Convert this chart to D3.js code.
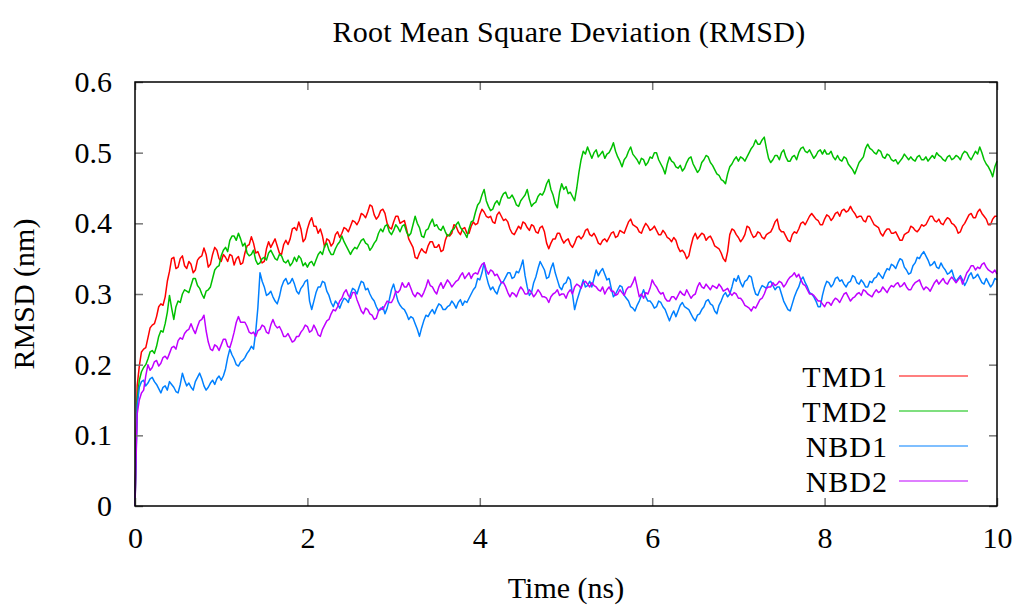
<!DOCTYPE html>
<html><head><meta charset="utf-8">
<script src="https://cdn.jsdelivr.net/npm/d3@7"></script>
<style>
html,body{margin:0;padding:0;background:#fff;}
text{font-family:"Liberation Serif","Times New Roman",serif;fill:#000;}
</style></head>
<body>
<svg id="chart" width="1013" height="605"></svg>
<script>
// ---- data ----
const title = "Root Mean Square Deviation (RMSD)";
const xLabel = "Time (ns)";
const yLabel = "RMSD (nm)";
const xTicks = [0, 2, 4, 6, 8, 10];
const yTicks = [0, 0.1, 0.2, 0.3, 0.4, 0.5, 0.6];
const seriesNames = ["TMD1", "TMD2", "NBD1", "NBD2"];
const seriesColors = ["#ff0000", "#00c000", "#0080ff", "#c000ff"];
const timeStep = 0.05; // ns between main samples; *Mid arrays sit halfway between them

const tmd1 = [
0, 0.198, 0.222, 0.238, 0.256, 0.268, 0.286, 0.296, 0.332, 0.352, 0.338, 0.354, 0.336, 0.342, 0.334, 0.352, 0.365, 0.338, 0.356, 0.362,
0.346, 0.352, 0.356, 0.341, 0.353, 0.344, 0.368, 0.381, 0.358, 0.352, 0.346, 0.374, 0.372, 0.368, 0.356, 0.376, 0.378, 0.394, 0.402, 0.374,
0.392, 0.408, 0.396, 0.392, 0.366, 0.376, 0.372, 0.388, 0.386, 0.392, 0.396, 0.402, 0.404, 0.412, 0.416, 0.424, 0.406, 0.418, 0.414, 0.394,
0.402, 0.41, 0.402, 0.392, 0.372, 0.352, 0.358, 0.36, 0.368, 0.374, 0.366, 0.36, 0.376, 0.382, 0.398, 0.388, 0.392, 0.386, 0.396, 0.398,
0.412, 0.416, 0.408, 0.402, 0.412, 0.41, 0.406, 0.392, 0.384, 0.396, 0.402, 0.394, 0.398, 0.388, 0.394, 0.388, 0.364, 0.378, 0.386, 0.378,
0.376, 0.37, 0.372, 0.382, 0.382, 0.392, 0.382, 0.38, 0.37, 0.378, 0.38, 0.388, 0.382, 0.388, 0.394, 0.406, 0.396, 0.388, 0.394, 0.396,
0.392, 0.39, 0.384, 0.386, 0.378, 0.38, 0.366, 0.362, 0.35, 0.368, 0.386, 0.382, 0.384, 0.38, 0.376, 0.366, 0.358, 0.346, 0.384, 0.39,
0.38, 0.378, 0.396, 0.386, 0.382, 0.386, 0.378, 0.386, 0.394, 0.406, 0.388, 0.382, 0.374, 0.388, 0.392, 0.402, 0.404, 0.414, 0.406, 0.398,
0.406, 0.41, 0.408, 0.416, 0.418, 0.416, 0.424, 0.414, 0.41, 0.404, 0.41, 0.404, 0.396, 0.386, 0.388, 0.392, 0.386, 0.382, 0.376, 0.386,
0.396, 0.39, 0.392, 0.396, 0.404, 0.41, 0.402, 0.4, 0.404, 0.406, 0.398, 0.386, 0.396, 0.406, 0.414, 0.408, 0.42, 0.41, 0.398, 0.406, 0.41];
const tmd1Mid = [
0.17, 0.218, 0.224, 0.252, 0.258, 0.282, 0.284, 0.318, 0.35, 0.336, 0.35, 0.34, 0.346, 0.33, 0.348, 0.354, 0.356, 0.342, 0.366, 0.35,
0.356, 0.346, 0.354, 0.35, 0.342, 0.358, 0.37, 0.372, 0.36, 0.344, 0.364, 0.366, 0.378, 0.358, 0.37, 0.37, 0.392, 0.39, 0.392, 0.378,
0.402, 0.396, 0.386, 0.382, 0.378, 0.368, 0.384, 0.38, 0.394, 0.388, 0.404, 0.398, 0.414, 0.408, 0.426, 0.412, 0.41, 0.42, 0.4, 0.392,
0.41, 0.4, 0.404, 0.378, 0.366, 0.35, 0.364, 0.358, 0.374, 0.366, 0.37, 0.362, 0.384, 0.386, 0.396, 0.384, 0.394, 0.386, 0.402, 0.4,
0.42, 0.41, 0.41, 0.4, 0.416, 0.404, 0.402, 0.386, 0.39, 0.392, 0.4, 0.39, 0.396, 0.386, 0.396, 0.372, 0.372, 0.378, 0.386, 0.372,
0.378, 0.366, 0.38, 0.378, 0.39, 0.384, 0.386, 0.372, 0.376, 0.374, 0.386, 0.38, 0.39, 0.386, 0.402, 0.398, 0.394, 0.386, 0.4, 0.39,
0.396, 0.384, 0.39, 0.38, 0.374, 0.376, 0.36, 0.358, 0.354, 0.38, 0.378, 0.386, 0.376, 0.382, 0.368, 0.364, 0.35, 0.36, 0.392, 0.384,
0.374, 0.384, 0.394, 0.38, 0.388, 0.38, 0.384, 0.388, 0.402, 0.392, 0.388, 0.376, 0.384, 0.386, 0.4, 0.398, 0.41, 0.41, 0.404, 0.398,
0.412, 0.404, 0.414, 0.41, 0.42, 0.418, 0.418, 0.408, 0.41, 0.402, 0.41, 0.398, 0.394, 0.382, 0.392, 0.386, 0.388, 0.376, 0.384, 0.388,
0.394, 0.388, 0.398, 0.398, 0.41, 0.404, 0.406, 0.398, 0.408, 0.4, 0.394, 0.388, 0.4, 0.412, 0.408, 0.416, 0.414, 0.406, 0.398, 0.41];

const tmd2 = [
0, 0.178, 0.196, 0.208, 0.22, 0.226, 0.248, 0.258, 0.298, 0.264, 0.29, 0.3, 0.304, 0.312, 0.322, 0.308, 0.294, 0.306, 0.322, 0.338,
0.354, 0.366, 0.376, 0.382, 0.386, 0.368, 0.358, 0.356, 0.348, 0.344, 0.352, 0.358, 0.356, 0.348, 0.354, 0.344, 0.34, 0.352, 0.354, 0.34,
0.338, 0.346, 0.348, 0.36, 0.368, 0.362, 0.356, 0.37, 0.382, 0.368, 0.356, 0.366, 0.37, 0.378, 0.37, 0.366, 0.376, 0.392, 0.396, 0.388,
0.39, 0.394, 0.396, 0.388, 0.386, 0.41, 0.394, 0.38, 0.392, 0.406, 0.398, 0.39, 0.388, 0.384, 0.392, 0.402, 0.39, 0.38, 0.402, 0.416,
0.43, 0.448, 0.424, 0.42, 0.432, 0.436, 0.444, 0.436, 0.434, 0.424, 0.436, 0.448, 0.424, 0.43, 0.442, 0.446, 0.462, 0.44, 0.422, 0.456,
0.452, 0.444, 0.432, 0.472, 0.502, 0.508, 0.492, 0.504, 0.498, 0.492, 0.5, 0.514, 0.494, 0.48, 0.494, 0.508, 0.494, 0.484, 0.49, 0.486,
0.492, 0.5, 0.484, 0.47, 0.494, 0.486, 0.478, 0.474, 0.486, 0.494, 0.478, 0.476, 0.49, 0.494, 0.482, 0.47, 0.462, 0.456, 0.48, 0.49,
0.488, 0.492, 0.494, 0.506, 0.518, 0.512, 0.522, 0.492, 0.49, 0.496, 0.5, 0.494, 0.488, 0.496, 0.5, 0.508, 0.5, 0.498, 0.496, 0.504,
0.504, 0.498, 0.494, 0.496, 0.488, 0.492, 0.48, 0.47, 0.486, 0.494, 0.512, 0.504, 0.498, 0.502, 0.492, 0.496, 0.488, 0.484, 0.492, 0.494,
0.494, 0.488, 0.496, 0.49, 0.488, 0.496, 0.5, 0.494, 0.488, 0.496, 0.492, 0.494, 0.498, 0.5, 0.49, 0.502, 0.508, 0.49, 0.48, 0.466, 0.488];
const tmd2Mid = [
0.15, 0.19, 0.2, 0.218, 0.216, 0.24, 0.246, 0.274, 0.28, 0.282, 0.288, 0.306, 0.302, 0.322, 0.312, 0.3, 0.304, 0.31, 0.334, 0.34,
0.362, 0.36, 0.382, 0.376, 0.378, 0.372, 0.354, 0.362, 0.342, 0.35, 0.348, 0.362, 0.35, 0.356, 0.346, 0.348, 0.344, 0.346, 0.35, 0.344,
0.344, 0.34, 0.356, 0.356, 0.372, 0.356, 0.364, 0.374, 0.374, 0.362, 0.362, 0.364, 0.376, 0.372, 0.362, 0.372, 0.386, 0.388, 0.398, 0.384,
0.398, 0.388, 0.398, 0.382, 0.398, 0.4, 0.382, 0.39, 0.4, 0.396, 0.392, 0.396, 0.382, 0.39, 0.398, 0.394, 0.386, 0.392, 0.404, 0.426,
0.44, 0.432, 0.418, 0.428, 0.426, 0.442, 0.436, 0.44, 0.426, 0.432, 0.44, 0.434, 0.428, 0.438, 0.44, 0.456, 0.448, 0.428, 0.444, 0.448,
0.442, 0.438, 0.45, 0.49, 0.498, 0.5, 0.5, 0.494, 0.502, 0.498, 0.506, 0.502, 0.488, 0.49, 0.502, 0.498, 0.49, 0.492, 0.482, 0.494,
0.5, 0.49, 0.478, 0.484, 0.488, 0.48, 0.482, 0.478, 0.492, 0.484, 0.472, 0.486, 0.496, 0.486, 0.476, 0.468, 0.46, 0.47, 0.484, 0.494,
0.494, 0.488, 0.5, 0.51, 0.512, 0.518, 0.506, 0.486, 0.496, 0.49, 0.504, 0.488, 0.494, 0.49, 0.506, 0.502, 0.504, 0.492, 0.502, 0.498,
0.498, 0.502, 0.49, 0.49, 0.494, 0.484, 0.476, 0.478, 0.49, 0.506, 0.506, 0.5, 0.504, 0.494, 0.498, 0.49, 0.49, 0.488, 0.498, 0.49,
0.49, 0.494, 0.49, 0.494, 0.492, 0.492, 0.496, 0.49, 0.494, 0.49, 0.496, 0.49, 0.502, 0.494, 0.496, 0.498, 0.5, 0.484, 0.474, 0.48];

const nbd1 = [
0, 0.168, 0.178, 0.174, 0.182, 0.172, 0.16, 0.17, 0.176, 0.168, 0.16, 0.188, 0.17, 0.168, 0.176, 0.188, 0.17, 0.168, 0.178, 0.18,
0.178, 0.194, 0.222, 0.208, 0.198, 0.206, 0.216, 0.226, 0.246, 0.33, 0.31, 0.3, 0.296, 0.286, 0.31, 0.322, 0.316, 0.314, 0.3, 0.312,
0.32, 0.278, 0.302, 0.31, 0.316, 0.298, 0.282, 0.286, 0.288, 0.292, 0.3, 0.306, 0.31, 0.316, 0.308, 0.294, 0.282, 0.278, 0.272, 0.292,
0.314, 0.29, 0.28, 0.272, 0.268, 0.258, 0.24, 0.262, 0.268, 0.278, 0.28, 0.284, 0.278, 0.284, 0.286, 0.288, 0.284, 0.288, 0.3, 0.31,
0.32, 0.344, 0.314, 0.31, 0.3, 0.316, 0.324, 0.33, 0.324, 0.33, 0.348, 0.31, 0.302, 0.324, 0.346, 0.334, 0.324, 0.344, 0.32, 0.306,
0.316, 0.32, 0.278, 0.3, 0.32, 0.312, 0.31, 0.334, 0.332, 0.328, 0.322, 0.296, 0.306, 0.31, 0.294, 0.282, 0.276, 0.29, 0.306, 0.29,
0.286, 0.282, 0.288, 0.278, 0.262, 0.276, 0.276, 0.288, 0.28, 0.272, 0.262, 0.272, 0.282, 0.292, 0.284, 0.272, 0.29, 0.302, 0.3, 0.322,
0.326, 0.31, 0.32, 0.324, 0.3, 0.306, 0.31, 0.316, 0.312, 0.31, 0.3, 0.284, 0.276, 0.296, 0.31, 0.324, 0.31, 0.3, 0.29, 0.282,
0.31, 0.316, 0.314, 0.324, 0.32, 0.31, 0.318, 0.324, 0.314, 0.316, 0.31, 0.316, 0.324, 0.326, 0.33, 0.334, 0.34, 0.344, 0.348, 0.334,
0.33, 0.344, 0.35, 0.36, 0.348, 0.342, 0.338, 0.344, 0.334, 0.33, 0.324, 0.322, 0.32, 0.318, 0.33, 0.324, 0.322, 0.314, 0.316, 0.314, 0.32];
const nbd1Mid = [
0.14, 0.176, 0.17, 0.18, 0.176, 0.166, 0.168, 0.164, 0.172, 0.162, 0.172, 0.178, 0.174, 0.164, 0.182, 0.18, 0.164, 0.174, 0.172, 0.184,
0.184, 0.21, 0.214, 0.2, 0.204, 0.21, 0.22, 0.222, 0.28, 0.318, 0.298, 0.304, 0.29, 0.296, 0.318, 0.314, 0.322, 0.304, 0.308, 0.318,
0.29, 0.29, 0.31, 0.318, 0.304, 0.288, 0.29, 0.28, 0.294, 0.288, 0.308, 0.3, 0.318, 0.306, 0.3, 0.29, 0.276, 0.282, 0.28, 0.306,
0.302, 0.284, 0.278, 0.264, 0.266, 0.25, 0.252, 0.27, 0.274, 0.272, 0.286, 0.278, 0.282, 0.29, 0.28, 0.292, 0.29, 0.294, 0.306, 0.322,
0.33, 0.326, 0.306, 0.304, 0.31, 0.318, 0.33, 0.322, 0.332, 0.338, 0.326, 0.298, 0.316, 0.336, 0.34, 0.322, 0.336, 0.33, 0.31, 0.314,
0.324, 0.3, 0.29, 0.31, 0.31, 0.318, 0.322, 0.326, 0.336, 0.32, 0.308, 0.3, 0.312, 0.298, 0.29, 0.28, 0.284, 0.298, 0.296, 0.29,
0.28, 0.29, 0.282, 0.27, 0.27, 0.268, 0.284, 0.282, 0.278, 0.266, 0.27, 0.278, 0.29, 0.286, 0.276, 0.284, 0.298, 0.296, 0.31, 0.318,
0.316, 0.318, 0.326, 0.31, 0.298, 0.312, 0.308, 0.318, 0.306, 0.31, 0.29, 0.278, 0.286, 0.304, 0.32, 0.316, 0.302, 0.296, 0.282, 0.298,
0.318, 0.31, 0.322, 0.318, 0.314, 0.316, 0.326, 0.316, 0.32, 0.31, 0.318, 0.322, 0.33, 0.322, 0.336, 0.342, 0.336, 0.35, 0.338, 0.328,
0.34, 0.352, 0.356, 0.354, 0.34, 0.346, 0.336, 0.338, 0.328, 0.334, 0.318, 0.326, 0.312, 0.326, 0.322, 0.328, 0.316, 0.322, 0.31, 0.322];

const nbd2 = [
0, 0.15, 0.164, 0.2, 0.196, 0.206, 0.202, 0.212, 0.216, 0.226, 0.234, 0.236, 0.248, 0.258, 0.244, 0.262, 0.27, 0.232, 0.22, 0.226,
0.228, 0.236, 0.224, 0.246, 0.268, 0.26, 0.254, 0.244, 0.24, 0.25, 0.254, 0.244, 0.264, 0.252, 0.248, 0.24, 0.238, 0.234, 0.24, 0.25,
0.254, 0.248, 0.25, 0.24, 0.256, 0.264, 0.278, 0.282, 0.294, 0.306, 0.294, 0.302, 0.284, 0.272, 0.278, 0.27, 0.266, 0.28, 0.284, 0.288,
0.294, 0.302, 0.316, 0.31, 0.308, 0.296, 0.3, 0.302, 0.32, 0.31, 0.3, 0.316, 0.314, 0.316, 0.314, 0.32, 0.33, 0.326, 0.322, 0.33,
0.336, 0.344, 0.328, 0.332, 0.328, 0.316, 0.31, 0.296, 0.3, 0.304, 0.306, 0.3, 0.302, 0.3, 0.302, 0.296, 0.288, 0.3, 0.306, 0.3,
0.294, 0.306, 0.31, 0.312, 0.316, 0.314, 0.316, 0.31, 0.304, 0.3, 0.31, 0.304, 0.3, 0.302, 0.306, 0.31, 0.324, 0.296, 0.294, 0.3,
0.32, 0.31, 0.3, 0.294, 0.29, 0.296, 0.298, 0.3, 0.306, 0.294, 0.3, 0.316, 0.308, 0.31, 0.312, 0.308, 0.31, 0.306, 0.302, 0.302,
0.294, 0.29, 0.282, 0.276, 0.28, 0.292, 0.3, 0.31, 0.316, 0.314, 0.316, 0.314, 0.324, 0.33, 0.328, 0.314, 0.306, 0.3, 0.294, 0.29,
0.282, 0.288, 0.29, 0.292, 0.294, 0.302, 0.29, 0.296, 0.302, 0.306, 0.3, 0.296, 0.306, 0.304, 0.306, 0.308, 0.31, 0.316, 0.312, 0.31,
0.306, 0.316, 0.32, 0.306, 0.308, 0.31, 0.32, 0.318, 0.316, 0.32, 0.32, 0.32, 0.314, 0.33, 0.34, 0.334, 0.336, 0.344, 0.334, 0.33, 0.328];
const nbd2Mid = [
0.13, 0.16, 0.184, 0.192, 0.204, 0.198, 0.21, 0.208, 0.224, 0.222, 0.238, 0.244, 0.25, 0.25, 0.254, 0.264, 0.248, 0.222, 0.228, 0.22,
0.236, 0.226, 0.234, 0.26, 0.26, 0.26, 0.246, 0.246, 0.248, 0.256, 0.246, 0.256, 0.256, 0.254, 0.24, 0.244, 0.232, 0.24, 0.246, 0.256,
0.246, 0.256, 0.242, 0.25, 0.262, 0.272, 0.276, 0.29, 0.302, 0.298, 0.302, 0.292, 0.276, 0.28, 0.272, 0.264, 0.276, 0.278, 0.29, 0.288,
0.304, 0.306, 0.31, 0.316, 0.3, 0.302, 0.296, 0.31, 0.312, 0.304, 0.31, 0.308, 0.32, 0.31, 0.318, 0.326, 0.322, 0.33, 0.328, 0.328,
0.342, 0.334, 0.334, 0.326, 0.322, 0.316, 0.302, 0.302, 0.296, 0.31, 0.3, 0.306, 0.296, 0.306, 0.296, 0.294, 0.296, 0.302, 0.298, 0.3,
0.302, 0.3, 0.314, 0.308, 0.318, 0.31, 0.312, 0.306, 0.31, 0.306, 0.304, 0.298, 0.306, 0.298, 0.31, 0.316, 0.31, 0.3, 0.302, 0.308,
0.314, 0.304, 0.302, 0.29, 0.296, 0.292, 0.304, 0.298, 0.3, 0.298, 0.31, 0.31, 0.314, 0.306, 0.31, 0.314, 0.304, 0.308, 0.298, 0.3,
0.294, 0.284, 0.28, 0.282, 0.286, 0.294, 0.308, 0.31, 0.312, 0.318, 0.31, 0.32, 0.326, 0.324, 0.32, 0.312, 0.3, 0.298, 0.29, 0.286,
0.288, 0.284, 0.294, 0.288, 0.3, 0.296, 0.294, 0.3, 0.298, 0.304, 0.298, 0.302, 0.302, 0.31, 0.302, 0.312, 0.314, 0.31, 0.316, 0.306,
0.312, 0.318, 0.312, 0.31, 0.304, 0.316, 0.314, 0.322, 0.314, 0.324, 0.316, 0.324, 0.322, 0.334, 0.34, 0.338, 0.342, 0.338, 0.332, 0.334];

const seriesValues = [tmd1, tmd2, nbd1, nbd2];
const seriesMids = [tmd1Mid, tmd2Mid, nbd1Mid, nbd2Mid];

// merge main samples and half-step samples into [time, value] pairs
function toPoints(main, mid) {
  const pts = [];
  main.forEach((v, i) => {
    pts.push([i * timeStep, v]);
    if (i < mid.length) pts.push([(i + 0.5) * timeStep, mid[i]]);
  });
  return pts;
}

// ---- layout ----
const W = 1013, H = 605;
const margin = {left: 135, right: 16, top: 82, bottom: 99};
const svg = d3.select("#chart");
const x = d3.scaleLinear().domain([0, 10]).range([margin.left, W - margin.right]);
const y = d3.scaleLinear().domain([0, 0.6]).range([H - margin.bottom, margin.top]);
const x0 = x.range()[0], x1 = x.range()[1], y0 = y.range()[0], y1 = y.range()[1];
const fs = 30;

// series
const line = d3.line().x(d => x(d[0])).y(d => y(d[1]));
const plot = svg.append("g");
seriesValues.forEach((vals, k) => {
  plot.append("path").datum(toPoints(vals, seriesMids[k]))
    .attr("fill", "none").attr("stroke", seriesColors[k])
    .attr("stroke-width", 1.5).attr("stroke-linejoin", "round")
    .attr("d", line);
});

// axes (ticks inward, mirrored)
const tickLen = 8;
const axL = svg.append("g").attr("transform", `translate(${x0},0)`)
  .call(d3.axisLeft(y).tickValues(yTicks).tickSize(-tickLen).tickPadding(23).tickFormat(d3.format("~g")));
const axR = svg.append("g").attr("transform", `translate(${x1},0)`)
  .call(d3.axisRight(y).tickValues(yTicks).tickSize(-tickLen).tickFormat(""));
const axB = svg.append("g").attr("transform", `translate(0,${y0})`)
  .call(d3.axisBottom(x).tickValues(xTicks).tickSize(-tickLen).tickPadding(21).tickFormat(d3.format("d")));
const axT = svg.append("g").attr("transform", `translate(0,${y1})`)
  .call(d3.axisTop(x).tickValues(xTicks).tickSize(-tickLen).tickFormat(""));
[axL, axR, axB, axT].forEach(a => {
  a.select(".domain").remove();
  a.selectAll(".tick line").attr("stroke", "#777").attr("stroke-width", 1.5);
  a.selectAll(".tick text").attr("font-size", fs).attr("font-family", "Liberation Serif").attr("fill", "#000");
});

// frame
svg.append("rect").attr("x", x0).attr("y", y1).attr("width", x1 - x0).attr("height", y0 - y1)
  .attr("fill", "none").attr("stroke", "#000").attr("stroke-width", 1.5);

// titles
svg.append("text").attr("x", 569).attr("y", 42).attr("text-anchor", "middle")
  .attr("font-size", fs).attr("letter-spacing", 0.3).text(title);
svg.append("text").attr("x", 566).attr("y", 598).attr("text-anchor", "middle")
  .attr("font-size", fs).text(xLabel);
svg.append("text").attr("transform", `translate(34,${(y0 + y1) / 2}) rotate(-90)`)
  .attr("text-anchor", "middle").attr("font-size", fs).text(yLabel);

// legend
const leg = svg.append("g");
seriesNames.forEach((name, k) => {
  const ly = 376 + k * 35;
  leg.append("text").attr("x", 888).attr("y", ly).attr("dy", "0.35em")
    .attr("text-anchor", "end").attr("font-size", fs).attr("letter-spacing", 1).text(name);
  leg.append("line").attr("x1", 899).attr("x2", 968).attr("y1", ly).attr("y2", ly)
    .attr("stroke", seriesColors[k]).attr("stroke-width", 1.2);
});
</script>
</body></html>
